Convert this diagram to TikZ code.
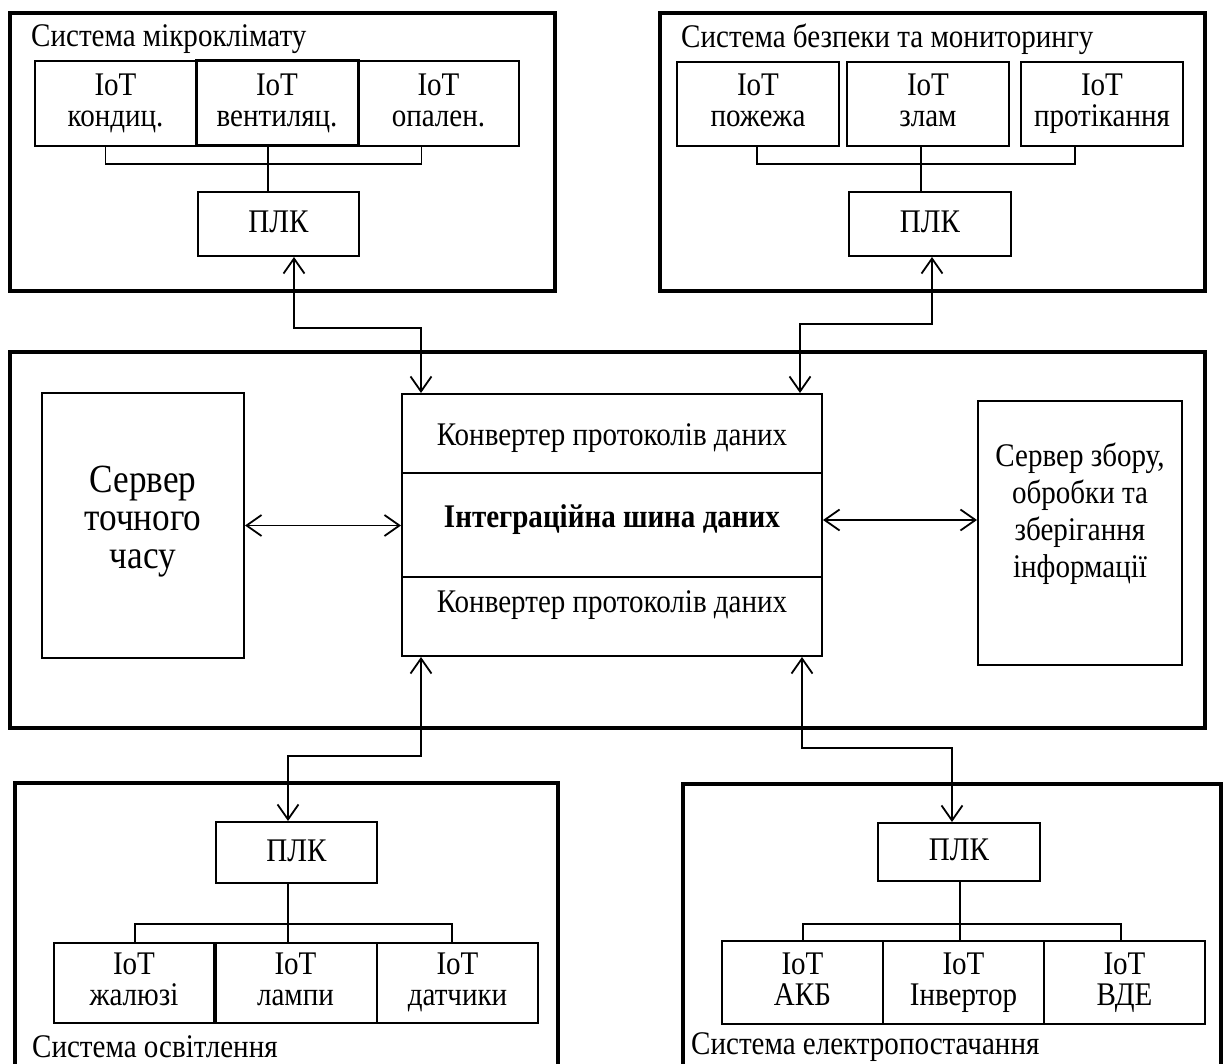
\documentclass[tikz,border=0pt]{standalone}
\usepackage{fontspec}
\setmainfont{Liberation Serif}[FakeStretch=0.88]
\usetikzlibrary{arrows.meta}
\newcommand\topstrut{\rule{0pt}{24pt}}
\newcommand\botstrut{\rule[-7pt]{0pt}{7pt}}
\begin{document}
\begin{tikzpicture}[x=1pt,y=-1pt,
  outerbox/.style={draw, line width=4pt, inner sep=0pt},
  box/.style={draw, line width=2pt, inner sep=0pt, align=center, font=\fontsize{33}{31}\selectfont,
    execute at begin node=\topstrut, execute at end node=\botstrut},
  txt/.style={inner sep=0pt, align=center, font=\fontsize{33}{37}\selectfont},
  conn/.style={line width=1.8pt},
  arr/.style={conn, {Straight Barb[length=15pt,width=21pt]}-{Straight Barb[length=15pt,width=21pt]}}
]
\useasboundingbox (0,0) rectangle (1227,1064);
\clip (0,0) rectangle (1227,1064);
\fill[white] (0,0) rectangle (1227,1064);

% ---------- top-left: microclimate ----------
\node[outerbox, minimum width=545pt, minimum height=278pt] (oTL) at (282.5,152) {};
\node[txt, anchor=west] (tTL) at (31,39) {Система мікроклімату};
\node[box, minimum width=161pt, minimum height=85pt] (kond) at (115.5,103.5) {IoT\\кондиц.};
\node[box, line width=3pt, minimum width=162pt, minimum height=85pt] (vent) at (277,103.5) {IoT\\вентиляц.};
\node[box, minimum width=161pt, minimum height=85pt] (open) at (438.5,103.5) {IoT\\опален.};
\node[box, minimum width=161pt, minimum height=64pt] (plcTL) at (278.5,224) {ПЛК};
\draw[conn] ([xshift=-10pt]kond.south) -- ++(0,17) -| ([xshift=-17pt]open.south);
\draw[conn] ([xshift=-9pt]vent.south) -- ([xshift=-10.5pt]plcTL.north);

% ---------- top-right: security ----------
\node[outerbox, minimum width=545pt, minimum height=278pt] (oTR) at (932.5,152) {};
\node[txt, anchor=west] (tTR) at (681,39) {Система безпеки та мониторингу};
\node[box, minimum width=162pt, minimum height=84pt] (pozh) at (758,104) {IoT\\пожежа};
\node[box, minimum width=162pt, minimum height=84pt] (zlam) at (928,104) {IoT\\злам};
\node[box, minimum width=162pt, minimum height=84pt] (prot) at (1102,104) {IoT\\протікання};
\node[box, minimum width=162pt, minimum height=64pt] (plcTR) at (930,224) {ПЛК};
\draw[conn] ([xshift=-1pt]pozh.south) -- ++(0,17) -| ([xshift=-27pt]prot.south);
\draw[conn] ([xshift=-7pt]zlam.south) -- ([xshift=-9pt]plcTR.north);

% ---------- centre ----------
\node[outerbox, minimum width=1195pt, minimum height=376pt] (oC) at (607.5,540) {};
\node[box, minimum width=202pt, minimum height=265pt] (srvT) at (143,525.5) {};
\node[txt, font=\fontsize{40}{38}\selectfont] (srvTt) at (143,522) {Сервер\\точного\\часу};
\node[box, minimum width=420pt, minimum height=79pt] (conv1) at (612,433.5) {};
\node[box, minimum width=420pt, minimum height=104pt] (bus) at (612,525) {};
\node[box, minimum width=420pt, minimum height=79pt] (conv2) at (612,616.5) {};
\node[txt] (conv1t) at (612,438) {Конвертер протоколів даних};
\node[txt, font=\fontsize{33}{37}\selectfont\bfseries] (bust) at (612,520) {Інтеграційна шина даних};
\node[txt] (conv2t) at (612,605) {Конвертер протоколів даних};
\node[box, minimum width=204pt, minimum height=264pt] (srvR) at (1080,533) {};
\node[txt] (srvRt) at (1080,514) {Сервер збору,\\обробки та\\зберігання\\інформації};
\draw[arr] (srvT.east) -- (srvT.east -| bus.west);
\draw[arr] ([yshift=5pt]bus.east) -- ([yshift=5pt]bus.east -| srvR.west);

% ---------- bottom-left: lighting ----------
\node[outerbox, minimum width=543pt, minimum height=317pt] (oBL) at (286.5,941.5) {};
\node[box, minimum width=161pt, minimum height=61pt] (plcBL) at (296.5,852.5) {ПЛК};
\node[box, minimum width=160pt, minimum height=80pt] (zhal) at (134,983) {IoT\\жалюзі};
\node[box, minimum width=163pt, minimum height=80pt] (lamp) at (295.5,983) {IoT\\лампи};
\node[box, minimum width=161pt, minimum height=80pt] (dat) at (457.5,983) {IoT\\датчики};
\draw[line width=3pt] (zhal.north east) -- (zhal.south east);
\node[txt, anchor=west] (tBL) at (32,1047) {Система освітлення};
\draw[conn] ([xshift=1pt]zhal.north) -- ++(0,-18) -| ([xshift=-5.5pt]dat.north);
\draw[conn] ([xshift=-8.5pt]plcBL.south) -- ([xshift=-7.5pt]lamp.north);

% ---------- bottom-right: power ----------
\node[outerbox, minimum width=538pt, minimum height=316pt] (oBR) at (952,942) {};
\node[box, minimum width=162pt, minimum height=58pt] (plcBR) at (959,852) {ПЛК};
\node[box, minimum width=161pt, minimum height=83pt] (akb) at (802.5,982.5) {IoT\\АКБ};
\node[box, minimum width=161pt, minimum height=83pt] (inv) at (963.5,982.5) {IoT\\Інвертор};
\node[box, minimum width=161pt, minimum height=83pt] (vde) at (1124.5,982.5) {IoT\\ВДЕ};
\node[txt, anchor=west] (tBR) at (691,1047) {Система електропостачання};
\draw[conn] ([xshift=0.5pt]akb.north) -- ++(0,-16) -| ([xshift=-3.5pt]vde.north);
\draw[conn] ([xshift=1pt]plcBR.south) -- ([xshift=-3.5pt]inv.north);

% ---------- links between subsystems ----------
\draw[arr] ([xshift=15.5pt]plcTL.south) -- ++(0,71) -| ([xshift=-191pt]conv1.north);
\draw[arr] ([xshift=2pt]plcTR.south) -- ++(0,67) -| ([xshift=188pt]conv1.north);
\draw[arr] ([xshift=-191pt]conv2.south) -- ++(0,99) -| ([xshift=-8.5pt]plcBL.north);
\draw[arr] ([xshift=190pt]conv2.south) -- ++(0,91) -| ([xshift=-7pt]plcBR.north);
\end{tikzpicture}
\end{document}
